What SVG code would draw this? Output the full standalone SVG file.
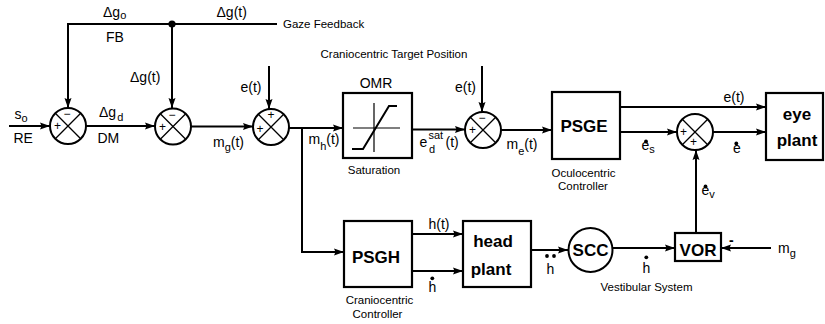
<svg xmlns="http://www.w3.org/2000/svg" width="825" height="324" viewBox="0 0 825 324">
<style>
text{font-family:"Liberation Sans",Arial,sans-serif;fill:#000}
.m{font-size:14px}
.s{font-size:11.5px}
.b{font-size:17px;font-weight:bold}
.sub{font-size:11px}
.sg{font-size:12px;text-anchor:middle}
.c{text-anchor:middle}
.ln{fill:none;stroke:#000;stroke-width:2}
.ar{fill:none;stroke:#000;stroke-width:2;marker-end:url(#arr)}
.box{fill:#fff;stroke:#000;stroke-width:2.2}
.sum{fill:#fff;stroke:#000;stroke-width:2}
.x{stroke:#000;stroke-width:1.3}
</style>
<defs>
<marker id="arr" markerWidth="10" markerHeight="8" refX="10" refY="4" orient="auto" markerUnits="userSpaceOnUse">
<path d="M0,0.5 L10,4 L0,7.5 L1.5,4 z" fill="#000"/>
</marker>
</defs>
<rect width="825" height="324" fill="#fff"/>

<g id="connectors">
<path class="ar" d="M9,126 H50"/>
<path class="ar" d="M277,24 H68 V108"/>
<path class="ar" d="M172,24 V108"/>
<circle cx="172" cy="24" r="3.6" fill="#000"/>
<path class="ar" d="M86,126 H155"/>
<path class="ar" d="M191,126.5 H253"/>
<path class="ar" d="M269,66 V109"/>
<path class="ar" d="M289,128 H343"/>
<path class="ar" d="M302,128 V252 H344"/>
<path class="ar" d="M412,129.5 H465"/>
<path class="ar" d="M482,66 V112"/>
<path class="ar" d="M501,130 H552"/>
<path class="ar" d="M620,107 H766"/>
<path class="ar" d="M620,132 H677"/>
<path class="ar" d="M713,132 H766"/>
<path class="ar" d="M696,233 V150"/>
<path class="ar" d="M771,248 H721"/>
<path class="ar" d="M612,248 H675"/>
<path class="ar" d="M531,250 H568"/>
<path class="ar" d="M412,234 H463"/>
<path class="ar" d="M412,271 H463"/>
</g>

<g id="sum1">
<circle class="sum" cx="68" cy="126" r="18"/>
<path class="x" d="M55.3,113.3 L80.7,138.7 M80.7,113.3 L55.3,138.7"/>
<text class="sg" x="67" y="118">−</text>
<text class="sg" x="57.5" y="130">+</text>
</g>
<g id="sum2">
<circle class="sum" cx="173" cy="126.5" r="18"/>
<path class="x" d="M160.3,113.8 L185.7,139.2 M185.7,113.8 L160.3,139.2"/>
<text class="sg" x="172" y="118.5">−</text>
<text class="sg" x="162.5" y="130.5">+</text>
</g>
<g id="sum3">
<circle class="sum" cx="271" cy="127" r="18"/>
<path class="x" d="M258.3,114.3 L283.7,139.7 M283.7,114.3 L258.3,139.7"/>
<text class="sg" x="271" y="119">+</text>
<text class="sg" x="260" y="133">+</text>
</g>
<g id="sum4">
<circle class="sum" cx="483" cy="130" r="18"/>
<path class="x" d="M470.3,117.3 L495.7,142.7 M495.7,117.3 L470.3,142.7"/>
<text class="sg" x="482" y="122">−</text>
<text class="sg" x="472.5" y="134">+</text>
</g>
<g id="sum5">
<circle class="sum" cx="695" cy="132" r="18"/>
<path class="x" d="M682.3,119.3 L707.7,144.7 M707.7,119.3 L682.3,144.7"/>
<text class="sg" x="683.5" y="136">+</text>
<text class="sg" x="693.5" y="146">+</text>
</g>

<g id="omr">
<rect class="box" x="343" y="93" width="69" height="65"/>
<path d="M353,128 H400 M374,103 V152" stroke="#000" stroke-width="1.2" fill="none"/>
<path d="M352,149 H363 L389,106 H397" stroke="#000" stroke-width="2" fill="none"/>
<text class="m c" x="376" y="88">OMR</text>
<text class="s c" x="374" y="174">Saturation</text>
</g>

<g id="psge">
<rect class="box" x="552" y="92" width="68" height="67"/>
<text class="b c" x="584" y="132">PSGE</text>
<text class="s c" x="583.5" y="177">Oculocentric</text>
<text class="s c" x="583" y="189.5">Controller</text>
</g>

<g id="eyeplant">
<rect class="box" x="766" y="93" width="57" height="67"/>
<text class="b c" x="797" y="120">eye</text>
<text class="b c" x="797" y="146">plant</text>
</g>

<g id="psgh">
<rect class="box" x="344" y="221" width="68" height="66"/>
<text class="b c" x="376" y="263">PSGH</text>
<text class="s c" x="379.5" y="304">Craniocentric</text>
<text class="s c" x="377.5" y="317.5">Controller</text>
</g>

<g id="headplant">
<rect class="box" x="463" y="221" width="68" height="66"/>
<text class="b c" x="493" y="247">head</text>
<text class="b c" x="491" y="274.5">plant</text>
</g>

<g id="scc">
<circle class="sum" cx="590.5" cy="250" r="22"/>
<text class="b c" x="590.5" y="256">SCC</text>
<text class="s c" x="646.5" y="291">Vestibular System</text>
</g>

<g id="vor">
<rect class="box" x="675" y="233" width="46" height="28"/>
<text class="b c" x="698" y="255.5">VOR</text>
</g>

<g id="labels">
<text class="m" x="103" y="16.7">Δg<tspan class="sub" dy="2.5">o</tspan></text>
<text class="m" x="106" y="41.7">FB</text>
<text class="m" x="216.5" y="16.7">Δg(t)</text>
<text class="s" x="283" y="28">Gaze Feedback</text>
<text class="m" x="130" y="81.7">Δg(t)</text>
<text class="m" x="240.5" y="92.3">e(t)</text>
<text class="s" x="320.5" y="58">Craniocentric Target Position</text>
<text class="m" x="455" y="91.7">e(t)</text>
<text class="m" x="14.5" y="118.5">s<tspan class="sub" dy="3.5">o</tspan></text>
<text class="m" x="13.5" y="143.3">RE</text>
<text class="m" x="99" y="116.7">Δg<tspan class="sub" dx="1" dy="4">d</tspan></text>
<text class="m" x="97.5" y="143.3">DM</text>
<text class="m" x="213" y="146.5">m<tspan class="sub" dy="4">g</tspan><tspan dy="-4">(t)</tspan></text>
<text class="m" x="308.5" y="144">m<tspan class="sub" dy="6">h</tspan><tspan dy="-6">(t)</tspan></text>
<text class="m" x="419.5" y="146.7">e</text>
<text class="sub" x="428.5" y="139">sat</text>
<text class="sub" x="429" y="153">d</text>
<text class="m" x="445.5" y="146.7">(t)</text>
<text class="m" x="506.5" y="149">m<tspan class="sub" dy="6">e</tspan><tspan dy="-6">(t)</tspan></text>
<text class="m" x="723.5" y="101.7">e(t)</text>
<text class="m" x="641.5" y="150">e<tspan class="sub" dy="3">s</tspan></text>
<circle cx="646" cy="141.5" r="1.9"/>
<text class="m" x="733" y="153.3">e</text>
<circle cx="736.3" cy="143.5" r="1.9"/>
<text class="m" x="701.5" y="195">e<tspan class="sub" dy="2.5">v</tspan></text>
<circle cx="705.5" cy="186.5" r="1.9"/>
<text class="m" x="428.5" y="229">h(t)</text>
<text class="m" x="428.5" y="292.3">h</text>
<circle cx="432.3" cy="278.3" r="1.9"/>
<text class="m" x="546.5" y="274">h</text>
<circle cx="547" cy="256" r="1.9"/>
<circle cx="554" cy="256" r="1.9"/>
<text class="m" x="642.5" y="273.3">h</text>
<circle cx="646.3" cy="257.3" r="1.9"/>
<text class="b" x="729" y="244.5" style="font-size:14px">-</text>
<text class="m" x="778" y="253">m<tspan class="sub" dy="3.5">g</tspan></text>
</g>
</svg>
